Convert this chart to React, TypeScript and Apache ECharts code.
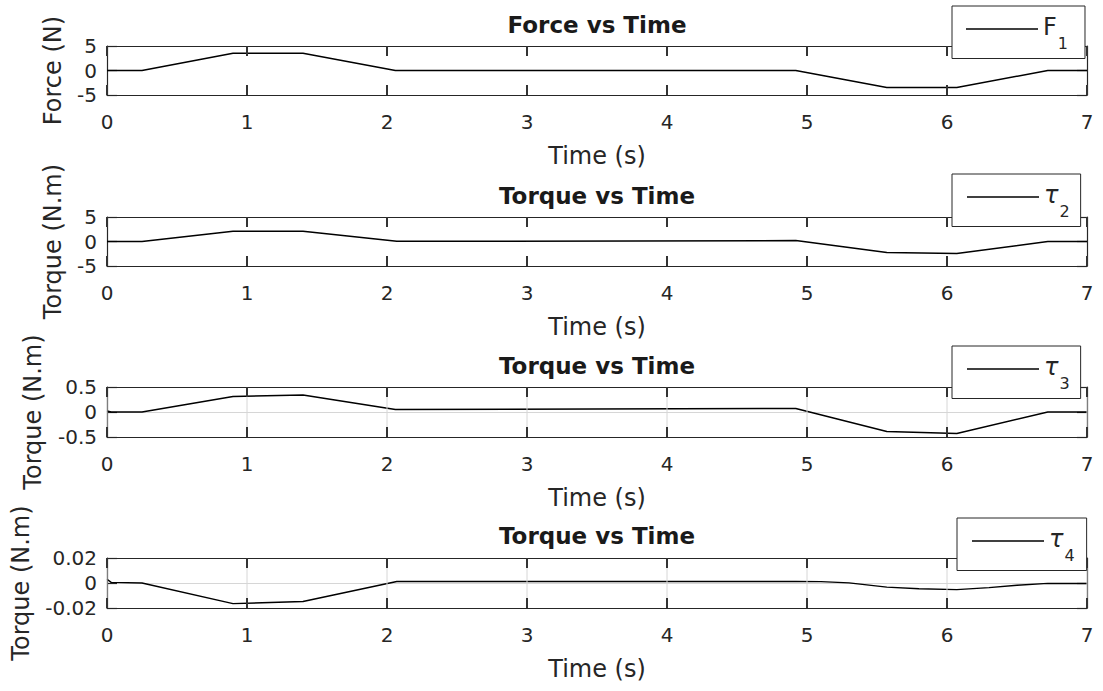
import React, { useEffect, useRef } from 'react';
import * as echarts from 'echarts';

// ---- data ----
const timeMin = 0;
const timeMax = 7;
const timeStep = 1;
const timeTicks = [0, 1, 2, 3, 4, 5, 6, 7];

const t1 = [0, 0.25, 0.9, 1.4, 2.06, 4.92, 5.57, 6.07, 6.72, 7];
const force1 = [0, 0, 3.5, 3.5, 0, 0, -3.45, -3.45, 0, 0];

const t2 = [0, 0.25, 0.9, 1.4, 2.07, 4.92, 5.57, 6.07, 6.72, 7];
const torque2 = [0, 0, 2.1, 2.1, 0.03, 0.18, -2.25, -2.45, 0, 0];

const t3 = [0, 0.03, 0.25, 0.9, 1.4, 2.06, 4.92, 5.57, 6.07, 6.72, 7];
const torque3 = [0.02, 0, 0, 0.31, 0.34, 0.05, 0.07, -0.39, -0.43, 0, 0];

const t4 = [0, 0.03, 0.25, 0.9, 1.4, 2.07, 4.92, 5.1, 5.3, 5.57, 5.8, 6.07, 6.3, 6.5, 6.72, 7];
const torque4 = [0.003, 0.0005, 0, -0.0165, -0.0148, 0.0012, 0.0013, 0.0011, 0.0001, -0.0033, -0.0046, -0.0053, -0.0037, -0.0018, -0.0003, -0.0003];

const titles = ['Force vs Time', 'Torque vs Time', 'Torque vs Time', 'Torque vs Time'];
const yNames = ['Force (N)', 'Torque (N.m)', 'Torque (N.m)', 'Torque (N.m)'];
const xName = 'Time (s)';
const yMins = [-5, -5, -0.5, -0.02];
const yMaxs = [5, 5, 0.5, 0.02];
const ySteps = [5, 5, 0.5, 0.02];
const seriesNames = ['F1', 'tau2', 'tau3', 'tau4'];
const legendMain = ['F', 'τ', 'τ', 'τ'];
const legendSub = ['1', '2', '3', '4'];

const times = [t1, t2, t3, t4];
const values = [force1, torque2, torque3, torque4];

// ---- layout ----
const FONT = 'DejaVu Sans';
const INK = '#262626';
const TICKC = '#333333';
const GRIDC = '#d6d6d6';
const TICK_LEN = 10;
const layout = [
  { top: 46, height: 49, titleY: 25, yGap: 42, grid: false, legend: { left: 952, top: 6, pad: [9, 17, 7, 14] } },
  { top: 217, height: 49, titleY: 196, yGap: 42, grid: false, legend: { left: 952, top: 174, pad: [9, 11, 7, 15] } },
  { top: 387, height: 50, titleY: 366, yGap: 62, grid: true, legend: { left: 952, top: 346, pad: [9, 11, 7, 15] } },
  { top: 558, height: 50, titleY: 536, yGap: 74, grid: true, legend: { left: 957, top: 518, pad: [9, 12, 7, 15] } },
];

export default function App() {
  const ref = useRef<HTMLDivElement>(null);

  useEffect(() => {
    if (!ref.current) return;
    const chart = echarts.init(ref.current, undefined, { renderer: 'svg' });

    const grids: any[] = [];
    const xAxes: any[] = [];
    const yAxes: any[] = [];
    const series: any[] = [];
    const legends: any[] = [];
    const graphics: any[] = [];

    layout.forEach((L, i) => {
      grids.push({
        left: 107,
        right: 16,
        top: L.top,
        height: L.height,
        show: false,
        containLabel: false,
      });
      const mkTick = () => ({ show: true, inside: true, length: TICK_LEN, lineStyle: { color: INK, width: 1.2 } });
      const mkLine = () => ({ show: true, onZero: false, lineStyle: { color: INK, width: 1.2 } });
      xAxes.push({
        type: 'value',
        gridIndex: i,
        position: 'bottom',
        min: timeMin,
        max: timeMax,
        interval: timeStep,
        axisLine: mkLine(),
        axisTick: { show: false },
        splitLine: { show: false },
        axisLabel: { show: true, color: INK, fontFamily: FONT, fontSize: 20, margin: 17 },
        name: xName,
        nameLocation: 'middle',
        nameGap: 49,
        nameTextStyle: { color: INK, fontFamily: FONT, fontSize: 24 },
      });
      xAxes.push({
        type: 'value',
        gridIndex: i,
        position: 'top',
        min: timeMin,
        max: timeMax,
        interval: timeStep,
        axisLine: mkLine(),
        axisTick: { show: false },
        splitLine: { show: false },
        axisLabel: { show: false },
      });
      yAxes.push({
        type: 'value',
        gridIndex: i,
        position: 'left',
        min: yMins[i],
        max: yMaxs[i],
        interval: ySteps[i],
        axisLine: mkLine(),
        axisTick: mkTick(),
        splitLine: { show: L.grid, lineStyle: { color: GRIDC, width: 1 } },
        axisLabel: { show: true, color: INK, fontFamily: FONT, fontSize: 20, margin: 10 },
        name: yNames[i],
        nameLocation: 'middle',
        nameGap: L.yGap,
        nameTextStyle: { color: INK, fontFamily: FONT, fontSize: 24 },
      });
      yAxes.push({
        type: 'value',
        gridIndex: i,
        position: 'right',
        min: yMins[i],
        max: yMaxs[i],
        interval: ySteps[i],
        axisLine: mkLine(),
        axisTick: mkTick(),
        splitLine: { show: false },
        axisLabel: { show: false },
      });
      // x ticks (top & bottom, inside) and vertical grid lines, placed via the axis scales
      series.push({
        type: 'custom',
        name: 'xticks' + i,
        xAxisIndex: 2 * i,
        yAxisIndex: 2 * i,
        coordinateSystem: 'cartesian2d',
        silent: true,
        clip: false,
        z: 4,
        data: timeTicks.map((t) => [t, 0]),
        renderItem: (params: any, api: any) => {
          const x = api.value(0);
          const pTop = api.coord([x, yMaxs[i]]);
          const pBot = api.coord([x, yMins[i]]);
          const children: any[] = [];
          if (L.grid) {
            children.push({
              type: 'line',
              z2: 0,
              shape: { x1: pTop[0], y1: pTop[1], x2: pBot[0], y2: pBot[1] },
              style: { stroke: GRIDC, lineWidth: 1, fill: null },
            });
          }
          children.push({
            type: 'line',
            z2: 1,
            shape: { x1: pTop[0], y1: pTop[1], x2: pTop[0], y2: pTop[1] + TICK_LEN },
            style: { stroke: TICKC, lineWidth: 2, fill: null },
          });
          children.push({
            type: 'line',
            z2: 1,
            shape: { x1: pBot[0], y1: pBot[1], x2: pBot[0], y2: pBot[1] - TICK_LEN },
            style: { stroke: TICKC, lineWidth: 2, fill: null },
          });
          return { type: 'group', children };
        },
      });
      series.push({
        type: 'line',
        name: seriesNames[i],
        xAxisIndex: 2 * i,
        yAxisIndex: 2 * i,
        symbol: 'none',
        showSymbol: false,
        lineStyle: { color: '#000', width: 1.5 },
        itemStyle: { color: '#000' },
        data: times[i].map((t, k) => [t, values[i][k]]),
        z: 3,
      });
      legends.push({
        show: true,
        data: [seriesNames[i]],
        left: L.legend.left,
        top: L.legend.top,
        orient: 'vertical',
        padding: L.legend.pad,
        icon: 'rect',
        itemWidth: 72,
        itemHeight: 1.5,
        itemStyle: { color: '#000', borderWidth: 0 },
        borderColor: INK,
        borderWidth: 1,
        borderRadius: 0,
        backgroundColor: '#fff',
        selectedMode: false,
        z: 6,
        formatter: () => `{${i === 0 ? 'm' : 't'}|${legendMain[i]}}{s|${legendSub[i]}}`,
        textStyle: {
          color: INK,
          fontFamily: FONT,
          rich: {
            m: { fontSize: 24, fontFamily: FONT, color: INK, padding: [0, 0, 4, 0] },
            t: { fontSize: 24, fontFamily: FONT, fontStyle: 'italic', color: INK, padding: [0, 0, 4, 0] },
            s: { fontSize: 16, fontFamily: FONT, color: INK, padding: [29, 0, 0, 1] },
          },
        },
      });
      graphics.push({
        type: 'text',
        x: 597,
        y: L.titleY,
        style: {
          text: titles[i],
          align: 'center',
          verticalAlign: 'middle',
          fontFamily: FONT,
          fontSize: 23,
          fontWeight: 'bold',
          fill: '#1a1a1a',
        },
      });
    });

    chart.setOption({
      animation: false,
      backgroundColor: '#fff',
      grid: grids,
      xAxis: xAxes,
      yAxis: yAxes,
      series,
      legend: legends,
      graphic: graphics,
    });

    return () => chart.dispose();
  }, []);

  return (
    <div
      ref={ref}
      style={{ position: 'fixed', left: 0, top: 0, width: 1103, height: 691 }}
    />
  );
}
